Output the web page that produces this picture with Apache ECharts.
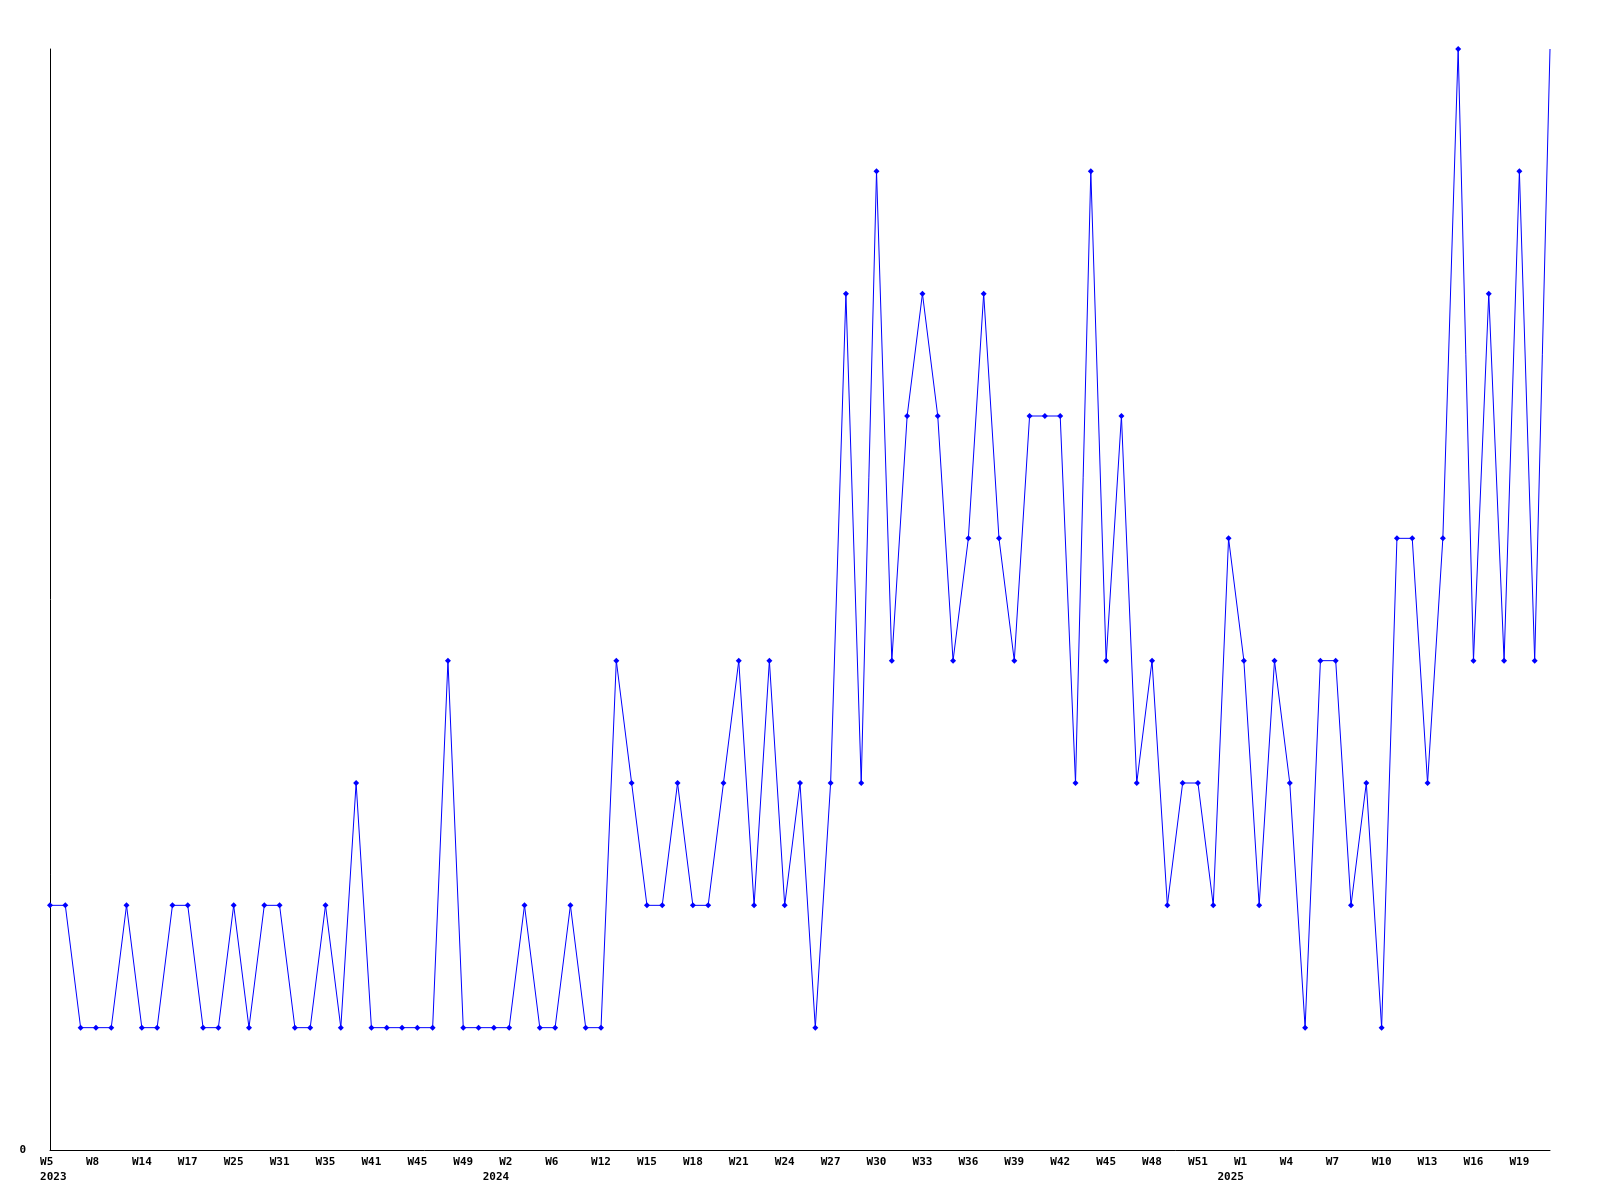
<!DOCTYPE html>
<html>
<head>
<meta charset="utf-8">
<script src="https://cdn.jsdelivr.net/npm/echarts@6/dist/echarts.min.js"></script>
<style>
html,body{margin:0;padding:0;background:#fff;}
#chart{width:1600px;height:1200px;}
</style>
</head>
<body>
<div id="chart"></div>
<script>
// Week numbers per year (one entry per data point)
var weeks2023 = [5,6,7,8,10,12,14,15,16,17,19,22,25,27,29,31,32,33,35,37,39,41,42,43,45,46,47,49,50,52];
var weeks2024 = [2,3,5,6,8,10,12,13,14,15,16,17,18,19,20,21,22,23,24,25,26,27,28,29,30,31,32,33,34,35,36,37,38,39,40,41,42,43,44,45,46,47,48,49,50,51,52,53];
var weeks2025 = [1,2,3,4,5,6,7,8,9,10,11,12,13,14,15,16,17,18,19,20,21];
var years = [2023, 2024, 2025];

// Series values (one per week)
var values = [
  2,2,1,1,1,2,1,1,2,2,
  1,1,2,1,2,2,1,1,2,1,
  3,1,1,1,1,1,4,1,1,1,
  1,2,1,1,2,1,1,4,3,2,
  2,3,2,2,3,4,2,4,2,3,
  1,3,7,3,8,4,6,7,6,4,
  5,7,5,4,6,6,6,3,8,4,
  6,3,4,2,3,3,2,5,4,2,
  4,3,1,4,4,2,3,1,5,5,
  3,5,9,4,7,4,8,4,9
];

var yTickLabels = ['0'];

var categories = [];
var labelText = [];
[weeks2023, weeks2024, weeks2025].forEach(function (wk, yi) {
  wk.forEach(function (w, k) {
    categories.push(years[yi] + '-W' + w);
    var wl = 'W' + w;
    if (wl.length < 3) wl = wl + ' ';
    var yl = '';
    if (k === 0) {
      yl = '\n' + (yi === 0 ? ' ' + years[yi] : years[yi] + '    ');
    }
    labelText.push(wl + yl);
  });
});

var seriesData = values.map(function (v, i) {
  if (i === values.length - 1) return { value: v, symbol: 'none' };
  return v;
});

var font = { fontFamily: 'DejaVu Sans Mono', fontWeight: 'bold', fontSize: 11, color: '#000' };

var chart = echarts.init(document.getElementById('chart'), null, { renderer: 'canvas' });
chart.setOption({
  animation: false,
  backgroundColor: '#fff',
  grid: { left: 50, right: 50, top: 49, bottom: 50, containLabel: false },
  xAxis: {
    type: 'category',
    data: categories,
    boundaryGap: false,
    axisLine: { show: true, lineStyle: { color: '#000', width: 1 } },
    axisTick: { show: false },
    splitLine: { show: false },
    axisLabel: Object.assign({
      interval: 2,
      margin: 5,
      lineHeight: 15,
      formatter: function (val, idx) { return labelText[idx]; }
    }, font)
  },
  yAxis: {
    type: 'value',
    min: 0,
    max: 9,
    interval: 9,
    axisLine: { show: true, lineStyle: { color: '#000', width: 1 } },
    axisTick: { show: false },
    splitLine: { show: false },
    axisLabel: Object.assign({
      margin: 24,
      formatter: function (v) { return v === 0 ? yTickLabels[0] : ''; }
    }, font)
  },
  series: [{
    type: 'line',
    data: seriesData,
    symbol: 'diamond',
    symbolSize: 6,
    showAllSymbol: true,
    clip: false,
    lineStyle: { color: '#0000ff', width: 1 },
    itemStyle: { color: '#0000ff' }
  }]
});
</script>
</body>
</html>
